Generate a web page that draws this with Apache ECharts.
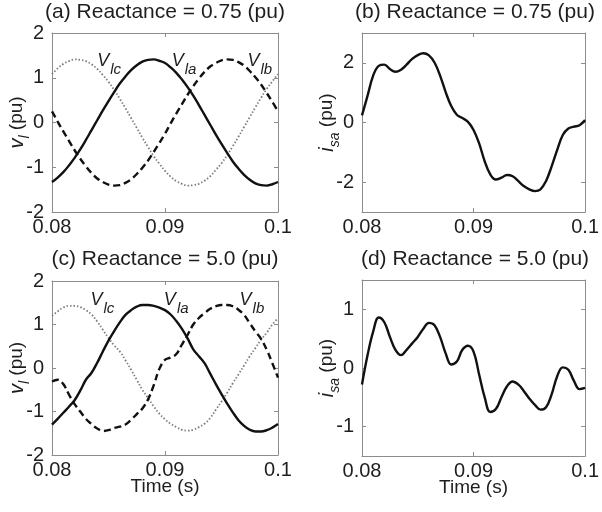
<!DOCTYPE html>
<html>
<head>
<meta charset="utf-8">
<script src="https://cdn.jsdelivr.net/npm/echarts@6/dist/echarts.min.js"></script>
<style>
html, body { margin: 0; padding: 0; background: #fff; }
#chart { width: 602px; height: 512px; }
</style>
</head>
<body>
<div id="chart"></div>
<script>
// time samples (s), shared by all four panels
var tAxis = [0.08, 0.0805, 0.081, 0.0815, 0.082, 0.0825, 0.083, 0.0835, 0.084, 0.0845,
	0.085, 0.0855, 0.086, 0.0865, 0.087, 0.0875, 0.088, 0.0885, 0.089, 0.0895,
	0.09, 0.0905, 0.091, 0.0915, 0.092, 0.0925, 0.093, 0.0935, 0.094, 0.0945,
	0.095, 0.0955, 0.096, 0.0965, 0.097, 0.0975, 0.098, 0.0985, 0.099, 0.0995, 0.1]

// (a) reactance 0.75 pu, line voltages
var vlaA = [-1.33, -1.23, -1.11, -0.96, -0.79, -0.60, -0.39, -0.17, 0.05, 0.27, 0.48, 0.68, 0.87, 1.03, 1.17, 1.28, 1.36, 1.40, 1.41, 1.38,
	1.33, 1.23, 1.11, 0.96, 0.79, 0.60, 0.39, 0.17, -0.05, -0.27, -0.48, -0.68, -0.87, -1.03, -1.17, -1.28, -1.36, -1.40, -1.41, -1.38, -1.33]
var vlbA = [0.25, 0.02, -0.20, -0.41, -0.62, -0.81, -0.98, -1.13, -1.25, -1.33, -1.39, -1.41, -1.40, -1.35, -1.27, -1.15, -1.01, -0.85, -0.66, -0.46,
	-0.25, -0.02, 0.20, 0.41, 0.62, 0.81, 0.98, 1.13, 1.25, 1.33, 1.39, 1.41, 1.40, 1.35, 1.27, 1.15, 1.01, 0.85, 0.66, 0.46, 0.25]
var vlcA = [1.08, 1.21, 1.31, 1.37, 1.41, 1.40, 1.37, 1.30, 1.20, 1.06, 0.91, 0.73, 0.53, 0.32, 0.10, -0.12, -0.34, -0.55, -0.75, -0.92,
	-1.08, -1.21, -1.31, -1.37, -1.41, -1.40, -1.37, -1.30, -1.20, -1.06, -0.91, -0.73, -0.53, -0.32, -0.10, 0.12, 0.34, 0.55, 0.75, 0.92, 1.08]

// (b) reactance 0.75 pu, source current
var isaB = [0.24, 0.90, 1.57, 1.90, 1.94, 1.79, 1.70, 1.77, 1.94, 2.13, 2.26, 2.32, 2.25, 2.01, 1.57, 1.02, 0.55, 0.26, 0.15, 0.02,
	-0.25, -0.70, -1.30, -1.74, -1.91, -1.85, -1.76, -1.80, -1.96, -2.13, -2.24, -2.30, -2.24, -1.96, -1.47, -0.92, -0.42, -0.20, -0.14, -0.09, 0.08]

// (c) reactance 5.0 pu, line voltages
var vlaC = [-1.30, -1.17, -1.03, -0.89, -0.74, -0.52, -0.27, -0.11, 0.12, 0.38, 0.63, 0.85, 1.05, 1.22, 1.33, 1.41, 1.45, 1.45, 1.43, 1.39,
	1.33, 1.23, 1.08, 0.90, 0.68, 0.43, 0.27, 0.11, -0.13, -0.37, -0.60, -0.82, -1.02, -1.20, -1.33, -1.42, -1.46, -1.46, -1.43, -1.37, -1.29]
var vlbC = [-0.31, -0.27, -0.37, -0.61, -0.83, -1.00, -1.17, -1.29, -1.39, -1.45, -1.43, -1.38, -1.35, -1.30, -1.19, -1.06, -0.93, -0.72, -0.40, -0.02,
	0.19, 0.24, 0.32, 0.54, 0.76, 1.00, 1.15, 1.26, 1.36, 1.42, 1.45, 1.45, 1.42, 1.34, 1.22, 1.03, 0.84, 0.67, 0.42, 0.11, -0.22]
var vlcC = [1.20, 1.30, 1.39, 1.43, 1.43, 1.40, 1.33, 1.23, 1.07, 0.88, 0.69, 0.52, 0.38, 0.18, -0.04, -0.27, -0.50, -0.69, -0.88, -1.05,
	-1.18, -1.28, -1.36, -1.42, -1.44, -1.42, -1.36, -1.28, -1.15, -0.96, -0.77, -0.57, -0.35, -0.15, 0.06, 0.27, 0.46, 0.65, 0.81, 1.00, 1.14]

// (d) reactance 5.0 pu, source current
var isaD = [-0.28, 0.22, 0.62, 0.86, 0.78, 0.53, 0.31, 0.22, 0.31, 0.42, 0.53, 0.67, 0.77, 0.73, 0.53, 0.25, 0.06, 0.11, 0.31, 0.38,
	0.28, -0.11, -0.50, -0.75, -0.70, -0.50, -0.31, -0.23, -0.28, -0.39, -0.52, -0.63, -0.71, -0.67, -0.45, -0.14, 0.01, -0.03, -0.22, -0.36, -0.34]

// tick labels
var xTicks = [0.08, 0.09, 0.1]
var vTicks = [-2, -1, 0, 1, 2]
var iTicksB = [-2, 0, 2]
var iTicksD = [-1, 0, 1]

var titles = ['(a) Reactance = 0.75 (pu)', '(b) Reactance = 0.75 (pu)', '(c) Reactance = 5.0 (pu)', '(d) Reactance = 5.0 (pu)']
// curve tags: [t, value] where the tag starts
var tagsA = { lc: [0.0840, 1.35], la: [0.0906, 1.35], lb: [0.0973, 1.35] }
var tagsC = { lc: [0.0834, 1.53], la: [0.0899, 1.53], lb: [0.0966, 1.53] }

var FONT = '"Liberation Sans", Arial, sans-serif'
var INK = '#1e1e1e'
var FRAME = '#8c8c8c'

var grids = [
	{ left: 52, top: 33, width: 226, height: 179 },
	{ left: 362, top: 33, width: 226, height: 179 },
	{ left: 52, top: 281, width: 226, height: 174 },
	{ left: 362, top: 280, width: 226, height: 176 }
]
var yRange = [[-2, 2, vTicks], [-3, 3, iTicksB], [-2, 2, vTicks], [-1.5, 1.5, iTicksD]]
var yNames = ['{v|v}{s|l}{t| (pu)}', '{v|i}{s|sa}{t| (pu)}', '{v|v}{s|l}{t| (pu)}', '{v|i}{s|sa}{t| (pu)}']

var nameRich = {
	v: { fontSize: 20, fontStyle: 'italic', fontFamily: FONT, color: INK, lineHeight: 22, verticalAlign: 'top' },
	s: { fontSize: 14, fontStyle: 'italic', fontFamily: FONT, color: INK, lineHeight: 14, padding: [11, 0, 0, 0], verticalAlign: 'top' },
	t: { fontSize: 19, fontFamily: FONT, color: INK, lineHeight: 22, verticalAlign: 'top' }
}
var tagRich = {
	v: { fontSize: 18, fontStyle: 'italic', fontFamily: FONT, color: INK, lineHeight: 20, verticalAlign: 'top' },
	s: { fontSize: 15, fontStyle: 'italic', fontFamily: FONT, color: INK, lineHeight: 15, padding: [10, 0, 0, 1], verticalAlign: 'top' }
}

var solid = { color: '#111', width: 2.4 }
var dashed = { color: '#111', width: 2.4, type: [7, 4] }
var dotted = { color: '#7c7c7c', width: 1.8, type: [1.5, 2] }

function xAxisFor(i, top) {
	return {
		type: 'value', gridIndex: i, min: 0.08, max: 0.1,
		position: top ? 'top' : 'bottom',
		axisLine: { show: true, onZero: false, lineStyle: { color: FRAME, width: 1 } },
		axisTick: { show: true, inside: true, length: 4, customValues: xTicks, lineStyle: { color: FRAME } },
		axisLabel: { show: !top, customValues: xTicks, fontSize: 20, color: INK, fontFamily: FONT, margin: 5 },
		splitLine: { show: false },
		name: (!top && i >= 2) ? 'Time (s)' : '',
		nameLocation: 'middle', nameGap: 22, nameMoveOverlap: false,
		nameTextStyle: { fontSize: 19, color: INK, fontFamily: FONT }
	}
}

function yAxisFor(i, right) {
	var r = yRange[i]
	return {
		type: 'value', gridIndex: i, min: r[0], max: r[1],
		position: right ? 'right' : 'left',
		axisLine: { show: true, onZero: false, lineStyle: { color: FRAME, width: 1 } },
		axisTick: { show: true, inside: true, length: 4, customValues: r[2], lineStyle: { color: FRAME } },
		axisLabel: { show: !right, customValues: r[2], fontSize: 20, color: INK, fontFamily: FONT, margin: 8 },
		splitLine: { show: false },
		name: right ? '' : yNames[i],
		nameLocation: 'middle', nameRotate: 90, nameGap: 23, nameMoveOverlap: false,
		nameTextStyle: { rich: nameRich }
	}
}

function line(i, ys, style, tag, sub) {
	var s = {
		type: 'line', xAxisIndex: i, yAxisIndex: i,
		data: tAxis.map(function (t, k) { return [t, ys[k]] }),
		showSymbol: false, smooth: 0.4, silent: true,
		lineStyle: style
	}
	if (tag) {
		s.markPoint = {
			symbol: 'circle', symbolSize: 0, silent: true,
			data: [{ coord: tag }],
			label: { show: true, position: 'right', distance: 0, formatter: '{v|V}{s|' + sub + '}', rich: tagRich }
		}
	}
	return s
}

var xAxes = [], yAxes = []
for (var i = 0; i < 4; i++) { xAxes.push(xAxisFor(i, false)); yAxes.push(yAxisFor(i, false)) }
for (var j = 0; j < 4; j++) { xAxes.push(xAxisFor(j, true)); yAxes.push(yAxisFor(j, true)) }

var titleCenters = [[165, 2], [475, 2], [165, 249], [475, 249]]

var option = {
	animation: false,
	backgroundColor: '#fff',
	title: titles.map(function (txt, k) {
		return {
			text: txt, left: titleCenters[k][0], top: titleCenters[k][1], textAlign: 'center', padding: 0,
			textStyle: { fontSize: 21, fontWeight: 'normal', color: INK, fontFamily: FONT }
		}
	}),
	grid: grids,
	xAxis: xAxes,
	yAxis: yAxes,
	series: [
		line(0, vlcA, dotted, tagsA.lc, 'lc'),
		line(0, vlbA, dashed, tagsA.lb, 'lb'),
		line(0, vlaA, solid, tagsA.la, 'la'),
		line(1, isaB, solid),
		line(2, vlcC, dotted, tagsC.lc, 'lc'),
		line(2, vlbC, dashed, tagsC.lb, 'lb'),
		line(2, vlaC, solid, tagsC.la, 'la'),
		line(3, isaD, solid)
	]
}

var myChart = echarts.init(document.getElementById('chart'))
myChart.setOption(option)
</script>
</body>
</html>
